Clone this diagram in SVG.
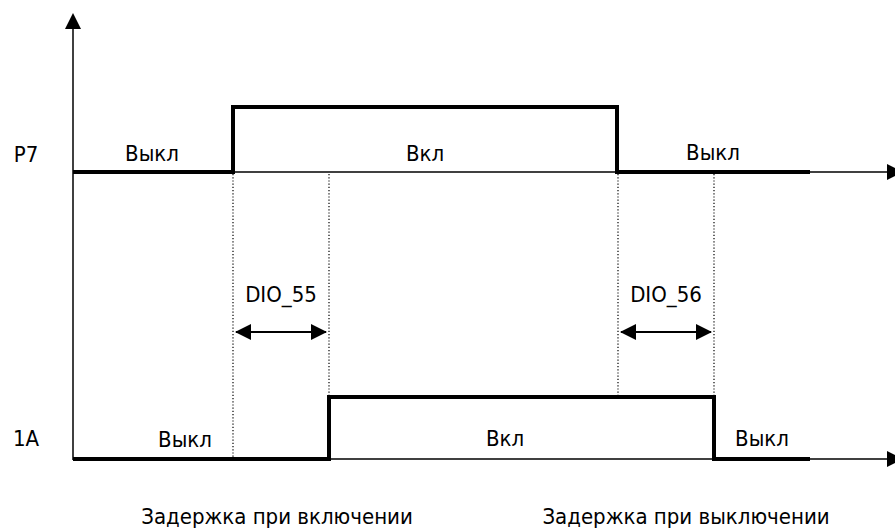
<svg xmlns="http://www.w3.org/2000/svg" width="895" height="528" viewBox="0 0 895 528">
<style>
.axis{stroke:#000;stroke-width:1.5;fill:none}
.sig{stroke:#000;stroke-width:4;fill:none;stroke-linejoin:miter}
.dot{stroke:#000;stroke-width:1.2;stroke-dasharray:1.2 2;fill:none}
.dim{stroke:#000;stroke-width:2;fill:none}
text{font-family:"DejaVu Sans Condensed","DejaVu Sans",sans-serif;font-stretch:condensed;font-size:22px;fill:#000}
</style>
<defs>
<marker id="ah" viewBox="0 0 16 16" refX="15" refY="8" markerWidth="16" markerHeight="16" markerUnits="userSpaceOnUse" orient="auto-start-reverse">
<path d="M0,0 L16,8 L0,16 Z" fill="#000"/>
</marker>
</defs>
<rect width="895" height="528" fill="#fff"/>
<g id="axes">
<line class="axis" x1="73" y1="460" x2="73" y2="28"/>
<polygon points="73,13 65,29 81,29" fill="#000"/>
<line class="axis" x1="73" y1="172" x2="890" y2="172"/>
<polygon points="887,164 903,172 887,180" fill="#000"/>
<line class="axis" x1="73" y1="459" x2="890" y2="459"/>
<polygon points="887,451 903,459 887,467" fill="#000"/>
</g>
<g id="guides">
<line class="dot" x1="233" y1="174" x2="233" y2="457"/>
<line class="dot" x1="329" y1="174" x2="329" y2="397"/>
<line class="dot" x1="618" y1="174" x2="618" y2="397"/>
<line class="dot" x1="714" y1="174" x2="714" y2="397"/>
</g>
<g id="signal-p7">
<polyline class="sig" points="73,172 233,172 233,107 617,107 617,172 810,172"/>
</g>
<g id="signal-1a">
<polyline class="sig" points="73,459 329,459 329,397 714,397 714,459 810,459"/>
</g>
<g id="connectors">
<line class="dim" x1="236" y1="332" x2="326" y2="332" marker-start="url(#ah)" marker-end="url(#ah)"/>
<line class="dim" x1="621" y1="332" x2="711" y2="332" marker-start="url(#ah)" marker-end="url(#ah)"/>
</g>
<g id="labels">
<text x="26" y="162" text-anchor="middle">P7</text>
<text x="152" y="161" text-anchor="middle">Выкл</text>
<text x="425" y="161" text-anchor="middle">Вкл</text>
<text x="713" y="160" text-anchor="middle">Выкл</text>
<text x="26" y="446" text-anchor="middle">1A</text>
<text x="185" y="447" text-anchor="middle">Выкл</text>
<text x="505" y="446" text-anchor="middle">Вкл</text>
<text x="762" y="446" text-anchor="middle">Выкл</text>
<text x="281" y="302" text-anchor="middle">DIO_55</text>
<text x="666" y="302" text-anchor="middle">DIO_56</text>
<text x="277" y="524" text-anchor="middle">Задержка при включении</text>
<text x="686" y="524" text-anchor="middle">Задержка при выключении</text>
</g>
</svg>
